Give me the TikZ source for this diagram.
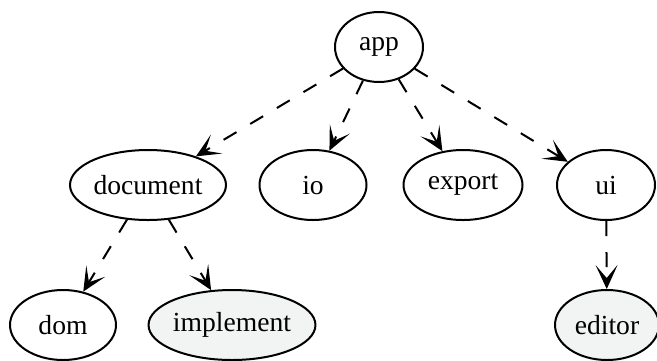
\documentclass[tikz,border=0pt]{standalone}
\usepackage{fontspec}
\setmainfont{Liberation Serif}
\usetikzlibrary{shapes,arrows.meta}
\definecolor{pkggrey}{RGB}{242,244,244}

\begin{document}
\begin{tikzpicture}[
    x=0.5pt, y=-0.5pt,
    pkg/.style={ellipse, draw, line width=1pt, inner sep=0pt, minimum height=35pt, font=\fontsize{13.8}{16}\selectfont},
    impl/.style={pkg, fill=pkggrey},
    dep/.style={line width=1pt, dash pattern=on 7.5pt off 8pt, -{Stealth[length=12pt, width=11pt, inset=6.5pt]}}
]
\useasboundingbox (0,0) rectangle (657,360);

% Top level
\node[pkg, minimum width=44pt] (app) at (379,47) {app};

% Second level
\node[pkg, minimum width=78pt] (document) at (148,185) {document};
\node[pkg, minimum width=53.5pt] (io) at (313,185) {io};
\node[pkg, minimum width=59.5pt] (export) at (463,185) {export};
\node[pkg, minimum width=49pt] (ui) at (606,185) {ui};

% Leaves
\node[pkg, minimum width=53pt] (dom) at (63,325) {dom};
\node[impl, minimum width=80.5pt] (implement) at (232,325) {implement};
\node[impl, minimum width=52pt] (editor) at (607,325) {editor};

% Dependencies
\foreach \from/\to in {app/document, app/io, app/export, app/ui, document/dom, document/implement, ui/editor}
    \draw[dep] (\from) -- (\to);

\end{tikzpicture}
\end{document}
